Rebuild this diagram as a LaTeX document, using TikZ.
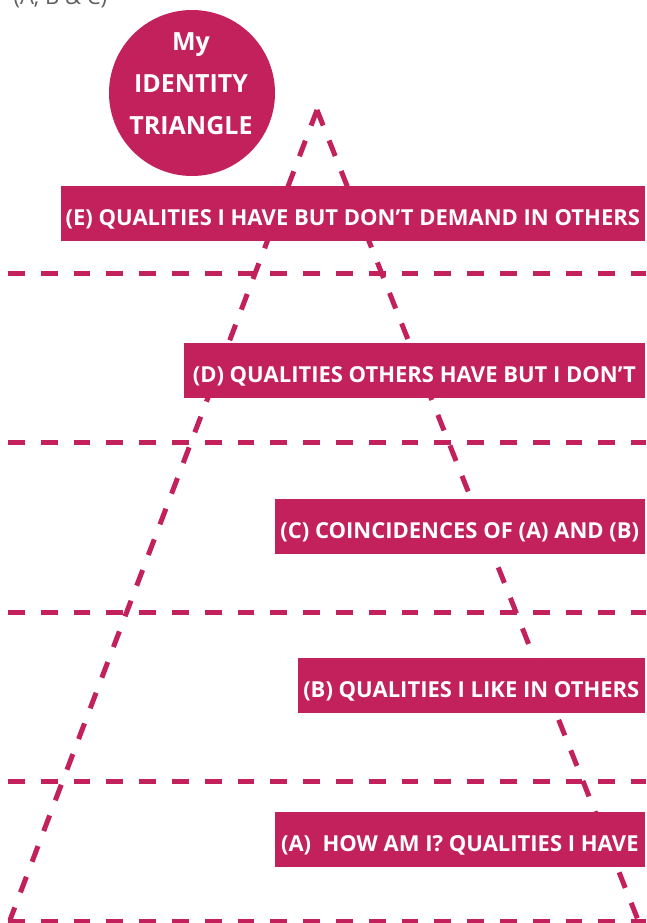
\documentclass[tikz,border=0pt]{standalone}
\usepackage{fontspec}
\setmainfont{Open Sans}
\definecolor{berry}{RGB}{194,33,91}
\definecolor{greytext}{RGB}{96,96,96}
\begin{document}
\begin{tikzpicture}[x=1pt,y=-1pt,
    dashline/.style={berry,line width=5pt,dash pattern=on 16.7pt off 16.1pt},
    levelbox/.style={fill=berry,inner sep=0pt,minimum height=55pt,anchor=east,
      text height=24pt,text depth=0pt,
      text=white,font=\bfseries\fontsize{22}{26}\selectfont},
    badge/.style={circle,fill=berry,minimum size=166pt,inner sep=0pt},
    badgetext/.style={text=white,align=center,font=\bfseries\fontsize{25}{42}\selectfont}
  ]
  \useasboundingbox (0,0) rectangle (646,923);
  %% Triangle
  \coordinate (apex) at (317,110);
  \coordinate (baseL) at (10,920);
  \coordinate (baseR) at (638,920);
  \draw[dashline] (apex) -- (baseL);
  \draw[dashline] (apex) -- (baseR);
  %% Levels
  \foreach \y in {273,442,612,781,921}
    \draw[dashline] (8,\y) -- (646,\y);
  %% Boxes
  \node[levelbox,minimum width=584pt] (boxE) at (645,213.5) {(E) QUALITIES I HAVE BUT DON’T DEMAND IN OTHERS};
  \node[levelbox,minimum width=461pt] (boxD) at (645,370.5) {(D) QUALITIES OTHERS HAVE BUT I DON’T};
  \node[levelbox,minimum width=370pt] (boxC) at (645,526.5) {(C) COINCIDENCES OF (A) AND (B)};
  \node[levelbox,minimum width=347pt] (boxB) at (645,685) {(B) QUALITIES I LIKE IN OTHERS};
  \node[levelbox,minimum width=370pt] (boxA) at (645,839.5) {(A)\ \ HOW AM I? QUALITIES I HAVE};
  %% Title
  \node[anchor=base west,text=greytext,font=\fontsize{22}{26}\selectfont] (legend) at (10,5) {(A, B \& C)};
  \node[badge] (badge) at (192,93) {};
  \node[badgetext] (badgeLabel) at (191,84) {My\\IDENTITY\\TRIANGLE};
\end{tikzpicture}
\end{document}
